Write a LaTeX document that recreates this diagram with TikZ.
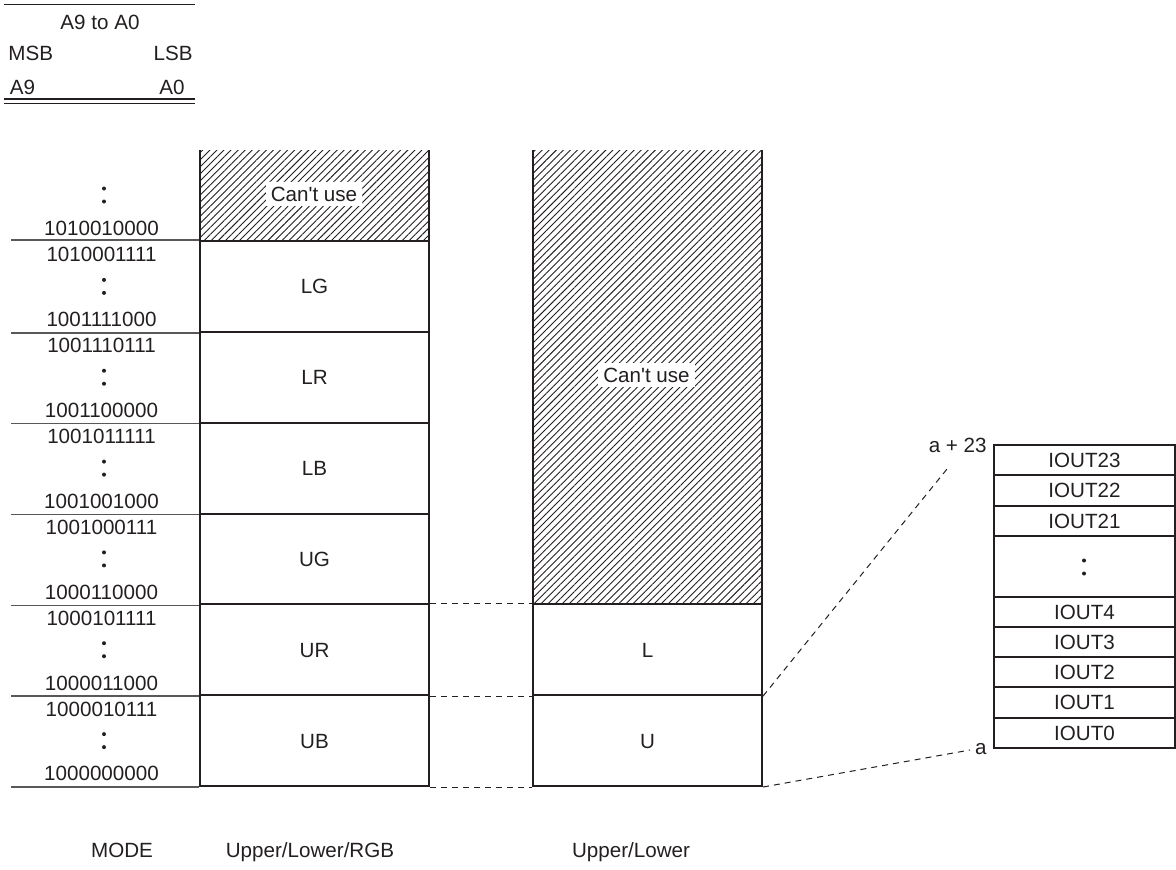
\documentclass[tikz,border=0pt]{standalone}
\usepackage{fontspec}
\setmainfont{Liberation Sans}[Ligatures=TeXOff]
\usetikzlibrary{positioning,patterns.meta}
\definecolor{ink}{RGB}{35,31,32}
\newcommand\twodots[2]{\fill[ink] (#1,#2-6.5) circle[radius=1pt] (#1,#2+6.5) circle[radius=1pt];}

\begin{document}
\begin{tikzpicture}[x=0.5pt,y=-0.5pt,
  every node/.style={font=\fontsize{10.3}{12}\selectfont,text=ink},
  lbl/.style={text height=7.4pt,text depth=0pt,inner sep=0pt},
  cell/.style={lbl,draw=ink,line width=1pt,minimum width=114.5pt,minimum height=45.4pt},
  iocell/.style={lbl,draw=ink,line width=1pt,minimum width=90.5pt,minimum height=15.15pt},
  sep/.style={draw=ink!75,line width=0.7pt},
  rule/.style={draw=ink,line width=0.6pt},
  link/.style={draw=ink,line width=0.5pt,dash pattern=on 3pt off 2.5pt},
  hatch/.style={pattern={Lines[angle=45,distance=2.5pt,line width=0.45pt]},pattern color=ink},
  blank/.style={lbl,fill=white,inner sep=2.5pt}]
\useasboundingbox (0,0) rectangle (1176,869);

% address width table
\draw[rule] (4,4.5) -- (195,4.5);
\node[lbl] (range) at (100,22.5) {A9 to A0};
\node[lbl,anchor=west] (msb) at (8,53) {MSB};
\node[lbl,anchor=east] (lsb) at (193,53) {LSB};
\node[lbl] (hibit) at (22.5,87.5) {A9};
\node[lbl] (lobit) at (172,87.5) {A0};
\draw[rule] (4,99) -- (195,99) (4,103.5) -- (195,103.5);

% unusable areas
\fill[hatch] (200,150) rectangle (429,241);
\fill[hatch] (533,150) rectangle (762,604.3);
\draw[ink,line width=1pt] (200,150) -- (200,241) (429,150) -- (429,241);
\draw[ink,line width=1pt] (533,150) -- (533,604.3) (762,150) -- (762,604.3);
\node[blank] (nouseA) at (314,194) {Can't use};
\node[blank] (nouseB) at (646.5,375) {Can't use};

% Upper/Lower/RGB mode
\node[cell] (lg) at (314.5,286.4) {LG};
\node[cell] (lr) at (314.5,377.2) {LR};
\node[cell] (lb) at (314.5,468.1) {LB};
\node[cell] (ug) at (314.5,558.9) {UG};
\node[cell] (ur) at (314.5,649.7) {UR};
\node[cell] (ub) at (314.5,740.6) {UB};

% Upper/Lower mode
\node[cell] (lo) at (647.5,649.7) {L};
\node[cell] (up) at (647.5,740.6) {U};

% addresses
\node[lbl] (adr0) at (101.5,228.5) {1010010000};
\twodots{104}{195}
\node[lbl] (adr1) at (101.5,254.5) {1010001111};
\twodots{104}{286.4}
\node[lbl] (adr2) at (101.5,319.3) {1001111000};
\node[lbl] (adr3) at (101.5,345.3) {1001110111};
\twodots{104}{377.2}
\node[lbl] (adr4) at (101.5,410.2) {1001100000};
\node[lbl] (adr5) at (101.5,436.2) {1001011111};
\twodots{104}{468.1}
\node[lbl] (adr6) at (101.5,501) {1001001000};
\node[lbl] (adr7) at (101.5,527) {1001000111};
\twodots{104}{558.9}
\node[lbl] (adr8) at (101.5,591.8) {1000110000};
\node[lbl] (adr9) at (101.5,617.8) {1000101111};
\twodots{104}{649.7}
\node[lbl] (adr10) at (101.5,682.7) {1000011000};
\node[lbl] (adr11) at (101.5,708.7) {1000010111};
\twodots{104}{740.6}
\node[lbl] (adr12) at (101.5,773.5) {1000000000};

\draw[sep] (lg.north west) -- ++(-188,0);
\draw[sep] (lg.south west) -- ++(-188,0);
\draw[sep] (lr.south west) -- ++(-188,0);
\draw[sep] (lb.south west) -- ++(-188,0);
\draw[sep] (ug.south west) -- ++(-188,0);
\draw[sep] (ur.south west) -- ++(-188,0);
\draw[sep] (ub.south west) -- ++(-188,0);

\draw[link] (ur.north east) -- (lo.north west);
\draw[link] (ur.south east) -- (lo.south west);
\draw[link] (ub.south east) -- (up.south west);

% IOUT data
\node[iocell] (io23) at (1084.5,460.15) {IOUT23};
\node[iocell] (io22) at (1084.5,490.45) {IOUT22};
\node[iocell] (io21) at (1084.5,520.75) {IOUT21};
\node[iocell,minimum height=30.3pt] (iodots) at (1084.5,566.2) {};
\twodots{1084}{567}
\node[iocell] (io4) at (1084.5,611.65) {IOUT4};
\node[iocell] (io3) at (1084.5,641.95) {IOUT3};
\node[iocell] (io2) at (1084.5,672.25) {IOUT2};
\node[iocell] (io1) at (1084.5,702.55) {IOUT1};
\node[iocell] (io0) at (1084.5,732.85) {IOUT0};

\node[lbl,anchor=east] (atop) at (987,445) {a + 23};
\node[lbl,anchor=east] (abase) at (987,747.5) {a};
\coordinate (atopend) at (947,469);
\coordinate (abaseend) at (970,750);
\draw[link] (lo.south east) -- (atopend);
\draw[link] (up.south east) -- (abaseend);

% modes
\node[lbl] (mode) at (122,850) {MODE};
\node[lbl] (modeA) at (310,850) {Upper/Lower/RGB};
\node[lbl] (modeB) at (631,850) {Upper/Lower};
\end{tikzpicture}
\end{document}
